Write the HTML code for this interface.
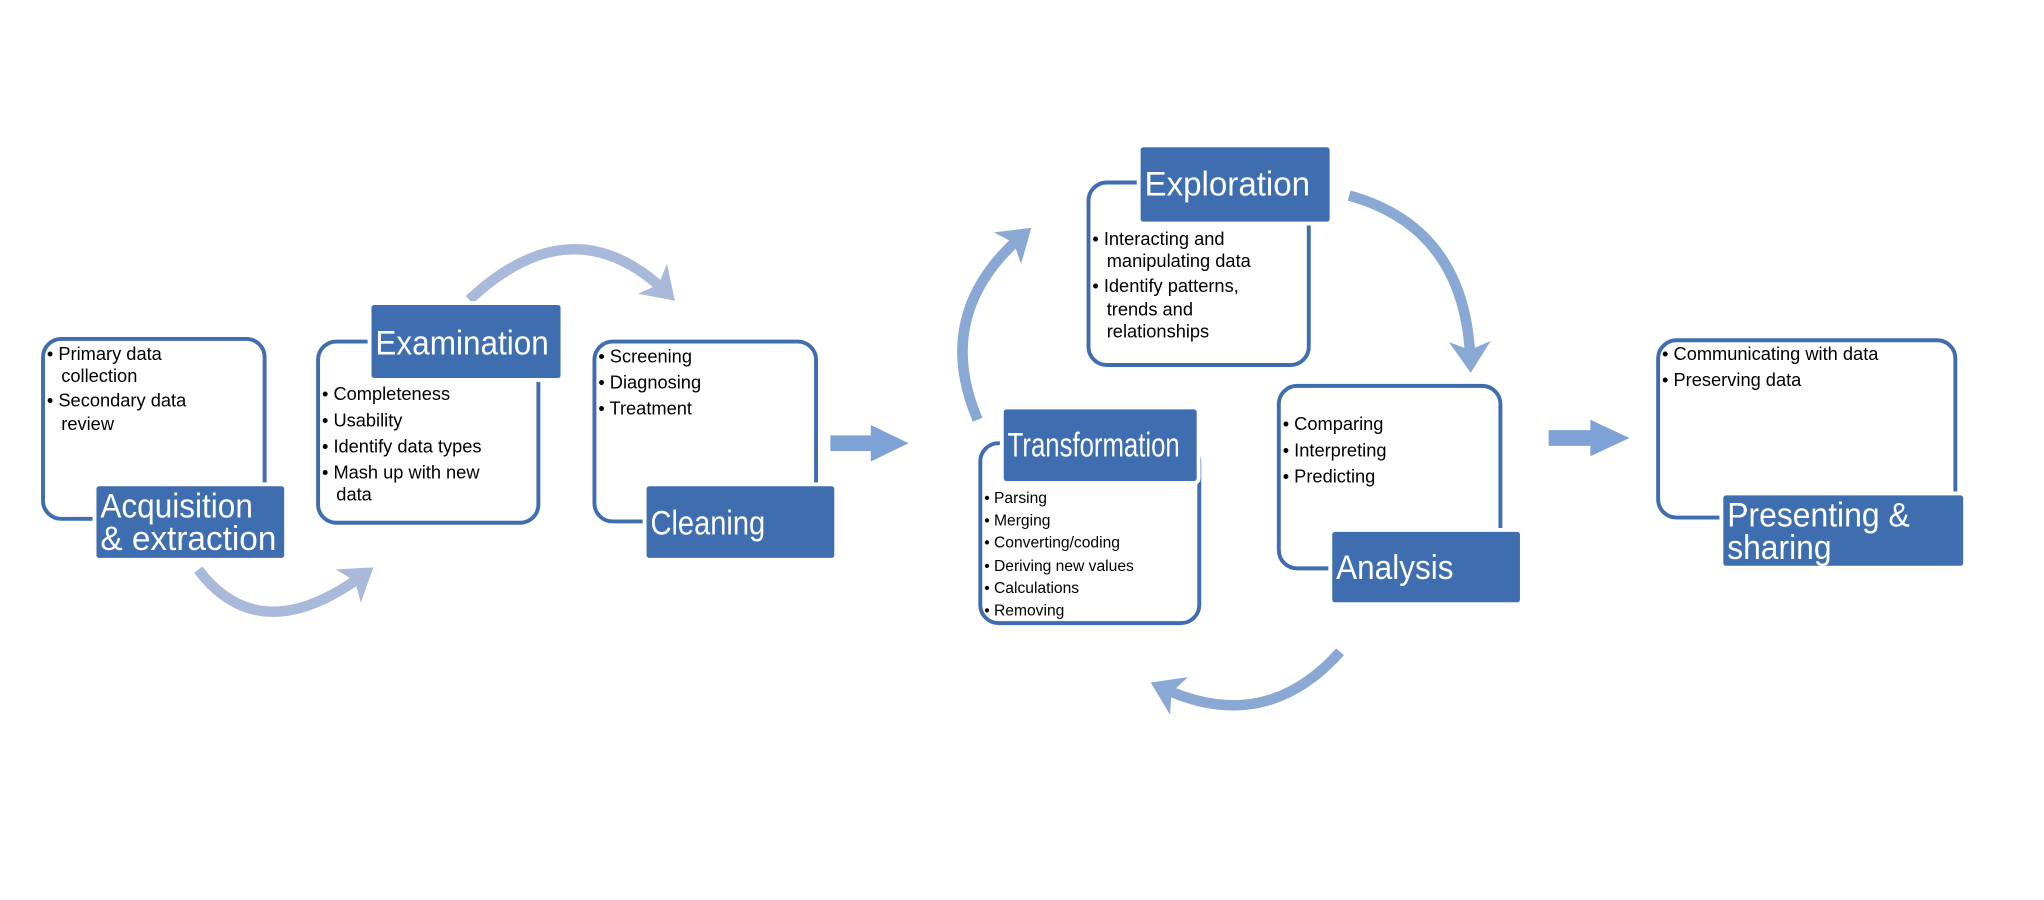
<!DOCTYPE html>
<html><head><meta charset="utf-8"><style>
html,body{margin:0;padding:0;background:#fff;width:2044px;height:900px;overflow:hidden}
svg{display:block}
text{font-family:"Liberation Sans",Arial,sans-serif}
.b{font-size:14px;fill:#000}
.s{font-size:12px;fill:#000}
.h{font-size:26px;fill:#fff}
.o{fill:#fff;stroke:#3F6DB0;stroke-width:3}
.l{fill:#3F6EB0;stroke:#fff;stroke-width:6;paint-order:stroke}
</style></head><body>
<svg width="2044" height="900" viewBox="0 0 1568 690.4" preserveAspectRatio="none">
<defs>
<marker id="ma" markerWidth="4" markerHeight="4" refX="2" refY="2" orient="auto" markerUnits="strokeWidth"><path d="M0,0 L3,2 L0,4 L0.8,2 Z" fill="#A9B9D9"/></marker>
<marker id="mb" markerWidth="4" markerHeight="4" refX="2" refY="2" orient="auto" markerUnits="strokeWidth"><path d="M0,0 L3,2 L0,4 L0.8,2 Z" fill="#89A8D3"/></marker>
</defs>

<path d="M152,437 Q200,500 280,440" fill="none" stroke="#A9B9D9" stroke-width="8" marker-end="url(#ma)"/>
<path d="M360,230 Q440,155 512,225" fill="none" stroke="#A9B9D9" stroke-width="8" marker-end="url(#ma)"/>

<path d="M750,322 Q715,240 785,180" fill="none" stroke="#89A8D3" stroke-width="8" marker-end="url(#mb)"/>
<path d="M1035,150 Q1125,175 1128,278" fill="none" stroke="#89A8D3" stroke-width="8" marker-end="url(#mb)"/>
<path d="M1028,500 Q970,565 890,527" fill="none" stroke="#89A8D3" stroke-width="8" marker-end="url(#mb)"/>

<polygon points="637,334 668,334 668,326 697,340 668,354 668,346 637,346" fill="#7FA2D6"/>
<polygon points="1188,330 1220,330 1220,322 1250,336 1220,350 1220,342 1188,342" fill="#7FA2D6"/>

<rect class="o" x="33" y="260" width="170" height="138" rx="14"/>
<rect class="l" x="74" y="373" width="144" height="55" rx="2"/>
<text class="h" x="77" y="397" textLength="117" lengthAdjust="spacingAndGlyphs">Acquisition</text>
<text class="h" x="77" y="422" textLength="135" lengthAdjust="spacingAndGlyphs">&amp; extraction</text>
<text class="b" x="36" y="276">• Primary data</text>
<text class="b" x="47" y="293">collection</text>
<text class="b" x="36" y="312">• Secondary data</text>
<text class="b" x="47" y="330">review</text>

<rect class="o" x="244" y="262" width="169" height="139" rx="14"/>
<rect class="l" x="285" y="234" width="145" height="56" rx="2"/>
<text class="h" x="288" y="272" textLength="133" lengthAdjust="spacingAndGlyphs">Examination</text>
<text class="b" x="247" y="307">• Completeness</text>
<text class="b" x="247" y="327">• Usability</text>
<text class="b" x="247" y="347">• Identify data types</text>
<text class="b" x="247" y="367">• Mash up with new</text>
<text class="b" x="258" y="384">data</text>

<rect class="o" x="456" y="262" width="170" height="138" rx="14"/>
<rect class="l" x="496" y="373" width="144" height="55" rx="2"/>
<text class="h" x="499" y="410" textLength="88" lengthAdjust="spacingAndGlyphs">Cleaning</text>
<text class="b" x="459" y="278">• Screening</text>
<text class="b" x="459" y="298">• Diagnosing</text>
<text class="b" x="459" y="318">• Treatment</text>

<rect class="o" x="752" y="340" width="168" height="138" rx="14"/>
<rect class="l" x="770" y="314" width="148" height="55" rx="2"/>
<text class="h" x="773" y="350" textLength="132" lengthAdjust="spacingAndGlyphs">Transformation</text>
<text class="s" x="755" y="386">• Parsing</text>
<text class="s" x="755" y="403">• Merging</text>
<text class="s" x="755" y="420">• Converting/coding</text>
<text class="s" x="755" y="438">• Deriving new values</text>
<text class="s" x="755" y="455">• Calculations</text>
<text class="s" x="755" y="472">• Removing</text>

<rect class="o" x="835" y="140" width="169" height="140" rx="14"/>
<rect class="l" x="875" y="113" width="145" height="57" rx="2"/>
<text class="h" x="878" y="150" textLength="127" lengthAdjust="spacingAndGlyphs">Exploration</text>
<text class="b" x="838" y="188">• Interacting and</text>
<text class="b" x="849" y="205">manipulating data</text>
<text class="b" x="838" y="224">• Identify patterns,</text>
<text class="b" x="849" y="242">trends and</text>
<text class="b" x="849" y="259">relationships</text>

<rect class="o" x="981" y="296" width="170" height="140" rx="14"/>
<rect class="l" x="1022" y="408" width="144" height="54" rx="2"/>
<text class="h" x="1025" y="444" textLength="90" lengthAdjust="spacingAndGlyphs">Analysis</text>
<text class="b" x="984" y="330">• Comparing</text>
<text class="b" x="984" y="350">• Interpreting</text>
<text class="b" x="984" y="370">• Predicting</text>

<rect class="o" x="1272" y="261" width="228" height="136" rx="14"/>
<rect class="l" x="1322" y="380" width="184" height="54" rx="2"/>
<text class="h" x="1325" y="404" textLength="140" lengthAdjust="spacingAndGlyphs">Presenting &amp;</text>
<text class="h" x="1325" y="429" textLength="80" lengthAdjust="spacingAndGlyphs">sharing</text>
<text class="b" x="1275" y="276">• Communicating with data</text>
<text class="b" x="1275" y="296">• Preserving data</text>
</svg>
</body></html>
